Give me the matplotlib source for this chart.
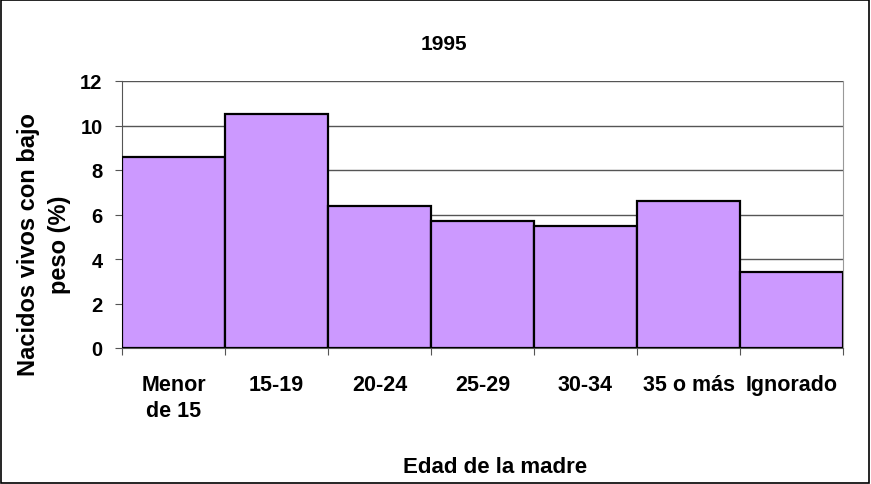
import matplotlib
matplotlib.use("Agg")
import matplotlib.pyplot as plt
from matplotlib.patches import Rectangle

categories = ["Menor\nde 15", "15-19", "20-24", "25-29", "30-34", "35 o más", "Ignorado"]
values = [8.6, 10.5, 6.4, 5.7, 5.5, 6.6, 3.4]
yticks = [0, 2, 4, 6, 8, 10, 12]

plt.rcParams['font.family'] = ['Liberation Sans', 'DejaVu Sans']
plt.rcParams['font.weight'] = 'bold'

W, H = 871, 485
fig = plt.figure(figsize=(W/100, H/100), dpi=100)
ax = fig.add_axes([122/W, 1-349/H, (843-122)/W, (349-82)/H])

x = list(range(len(categories)))
ax.bar(x, values, width=1.0, color='#CC99FF', edgecolor='black', linewidth=1.6, zorder=3)
ax.set_xlim(-0.5, len(categories)-0.5)
ax.set_ylim(0, 12)
ax.set_yticks(yticks)
ax.yaxis.grid(True, color='#555555', linewidth=1, zorder=0)
ax.set_xticks([i - 0.5 for i in range(len(categories)+1)], minor=False)
ax.set_xticklabels([])
ax.set_xticks(x, minor=True)
ax.set_xticklabels(categories, minor=True, fontsize=15.5, fontweight='bold', linespacing=1.3)
ax.tick_params(axis='x', which='minor', length=0, pad=19)
ax.tick_params(axis='x', which='major', length=5, direction='out', color='#555555')
ax.tick_params(axis='y', length=5, labelsize=14.5, color='#555555', pad=9)
for lab in ax.get_yticklabels():
    lab.set_fontweight('bold')
ax.spines['top'].set_visible(False)
ax.spines['right'].set_color('#999999')
ax.spines['left'].set_color('#555555')
ax.spines['bottom'].set_color('#555555')

fig.text(44/W, 1-245/H, "Nacidos vivos con bajo\npeso (%)", rotation=90, ha='center', va='center',
         fontsize=17, fontweight='bold', linespacing=1.45, multialignment='center')
fig.text(495/W, 1-468/H, "Edad de la madre", ha='center', va='center', fontsize=16, fontweight='bold')
fig.text(444/W, 1-44/H, "1995", ha='center', va='center', fontsize=15, fontweight='bold')

fig.patches.append(Rectangle((0.001, 0.002), 0.997, 0.996, transform=fig.transFigure,
                             fill=False, edgecolor='black', linewidth=1.2))

fig.savefig("out.png", dpi=100)
